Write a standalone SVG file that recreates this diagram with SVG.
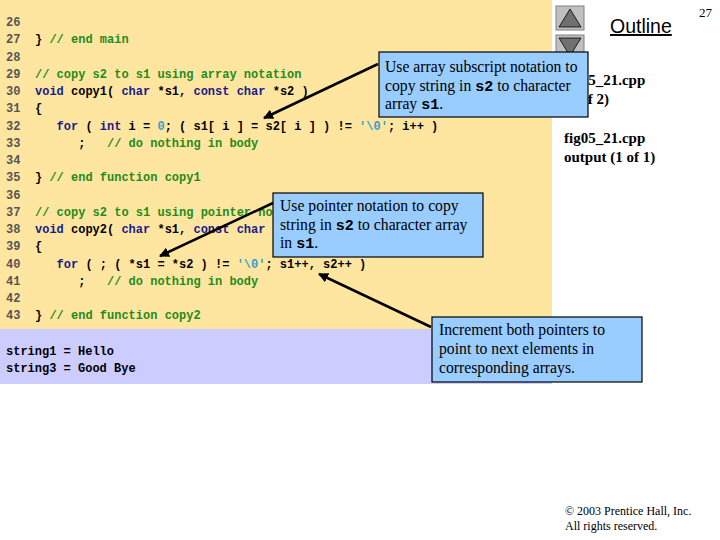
<svg xmlns="http://www.w3.org/2000/svg" width="720" height="540" viewBox="0 0 720 540">
<style>
.code{font-family:"Liberation Mono","DejaVu Sans Mono",monospace;font-size:12px;font-weight:bold;fill:#000;white-space:pre}
.ln{fill:#555}
.cm{fill:#1E8C1E}
.kw{fill:#1A1A8C}
.lit{fill:#33A0CC}
.call{fill:#99CCFF;stroke:#000;stroke-width:1.2}
.ct{font-family:"Liberation Serif","Times New Roman",serif;font-size:15.7px;fill:#000}
.cmono{font-family:"Liberation Mono",monospace;font-weight:bold;font-size:15px}
.side{font-family:"Liberation Serif","Times New Roman",serif;font-size:15px;font-weight:bold;fill:#000}
.conn{stroke:#000;stroke-width:2.5;fill:none;marker-end:url(#ah)}
</style>
<defs>
<marker id="ah" viewBox="0 0 10 10" refX="9" refY="5" markerWidth="4" markerHeight="4" orient="auto" markerUnits="strokeWidth">
<path d="M0,0 L10,5 L0,10 z" fill="#000"/>
</marker>
</defs>
<rect width="720" height="540" fill="#fff"/>
<rect x="0" y="0" width="552" height="329" fill="#FFE6A0"/>
<rect x="0" y="329" width="552" height="55" fill="#CCCCFF"/>

<g id="code" class="code">
<text x="6" y="26"><tspan class="ln">26</tspan></text>
<text x="6" y="43"><tspan class="ln">27</tspan><tspan x="35">} </tspan><tspan class="cm">// end main</tspan></text>
<text x="6" y="60.5"><tspan class="ln">28</tspan></text>
<text x="6" y="77.8"><tspan class="ln">29</tspan><tspan x="35" class="cm">// copy s2 to s1 using array notation</tspan></text>
<text x="6" y="95"><tspan class="ln">30</tspan><tspan x="35" class="kw">void</tspan> copy1( <tspan class="kw">char</tspan> *s1, <tspan class="kw">const</tspan> <tspan class="kw">char</tspan> *s2 )</text>
<text x="6" y="112.3"><tspan class="ln">31</tspan><tspan x="35">{</tspan></text>
<text x="6" y="129.5"><tspan class="ln">32</tspan><tspan x="56.6" class="kw">for</tspan> ( <tspan class="kw">int</tspan> i = <tspan class="lit">0</tspan>; ( s1[ i ] = s2[ i ] ) != <tspan class="lit">'\0'</tspan>; i++ )</text>
<text x="6" y="146.8"><tspan class="ln">33</tspan><tspan x="78.2">;</tspan><tspan x="107" class="cm">// do nothing in body</tspan></text>
<text x="6" y="164"><tspan class="ln">34</tspan></text>
<text x="6" y="181.3"><tspan class="ln">35</tspan><tspan x="35">} </tspan><tspan class="cm">// end function copy1</tspan></text>
<text x="6" y="198.5"><tspan class="ln">36</tspan></text>
<text x="6" y="215.8"><tspan class="ln">37</tspan><tspan x="35" class="cm">// copy s2 to s1 using pointer notation</tspan></text>
<text x="6" y="233"><tspan class="ln">38</tspan><tspan x="35" class="kw">void</tspan> copy2( <tspan class="kw">char</tspan> *s1, <tspan class="kw">const</tspan> <tspan class="kw">char</tspan> *s2 )</text>
<text x="6" y="250.3"><tspan class="ln">39</tspan><tspan x="35">{</tspan></text>
<text x="6" y="267.5"><tspan class="ln">40</tspan><tspan x="56.6" class="kw">for</tspan> ( ; ( *s1 = *s2 ) != <tspan class="lit">'\0'</tspan>; s1++, s2++ )</text>
<text x="6" y="284.8"><tspan class="ln">41</tspan><tspan x="78.2">;</tspan><tspan x="107" class="cm">// do nothing in body</tspan></text>
<text x="6" y="302"><tspan class="ln">42</tspan></text>
<text x="6" y="319.3"><tspan class="ln">43</tspan><tspan x="35">} </tspan><tspan class="cm">// end function copy2</tspan></text>
<text x="6" y="355">string1 = Hello</text>
<text x="6" y="372">string3 = Good Bye</text>
</g>

<g id="nav">
<rect x="556" y="6" width="28" height="24" fill="#C0C0C0" stroke="#808080"/>
<path d="M570,9 L581,27 L559,27 z" fill="#707070" stroke="#000" stroke-width="0.8"/>
<rect x="556" y="35" width="28" height="24" fill="#C0C0C0" stroke="#808080"/>
<path d="M559,38 L581,38 L570,56 z" fill="#707070" stroke="#000" stroke-width="0.8"/>
<text x="610" y="33" font-family="Liberation Sans, Arial, sans-serif" font-size="19.5" text-decoration="underline">Outline</text>
<text x="699" y="17" font-family="Liberation Serif, serif" font-size="13">27</text>
</g>

<g id="side" class="side">
<text x="564" y="85">fig05_21.cpp</text>
<text x="564" y="104">(2 of 2)</text>
<text x="564" y="143">fig05_21.cpp</text>
<text x="564" y="162">output (1 of 1)</text>
</g>

<g id="callout1">
<rect class="call" x="379" y="52" width="209" height="65"/>
<text class="ct" x="385" y="72">Use array subscript notation to</text>
<text class="ct" x="385" y="90.5">copy string in <tspan class="cmono">s2</tspan> to character</text>
<text class="ct" x="385" y="109">array <tspan class="cmono">s1</tspan>.</text>
</g>

<g id="callout2">
<rect class="call" x="273" y="193" width="210" height="64"/>
<text class="ct" x="280" y="211">Use pointer notation to copy</text>
<text class="ct" x="280" y="229.5">string in <tspan class="cmono">s2</tspan> to character array</text>
<text class="ct" x="280" y="248">in <tspan class="cmono">s1</tspan>.</text>
</g>

<g id="callout3">
<rect class="call" x="432" y="317" width="210" height="65"/>
<text class="ct" x="439" y="335">Increment both pointers to</text>
<text class="ct" x="439" y="354">point to next elements in</text>
<text class="ct" x="439" y="373">corresponding arrays.</text>
</g>

<g id="connectors">
<line class="conn" x1="378" y1="64" x2="264" y2="118"/>
<line class="conn" x1="273" y1="203" x2="160" y2="256"/>
<line class="conn" x1="431" y1="327" x2="319" y2="274"/>
</g>

<g id="footer" font-family="Liberation Serif, serif" font-size="12">
<text x="565" y="515">© 2003 Prentice Hall, Inc.</text>
<text x="565" y="530">All rights reserved.</text>
</g>
</svg>
